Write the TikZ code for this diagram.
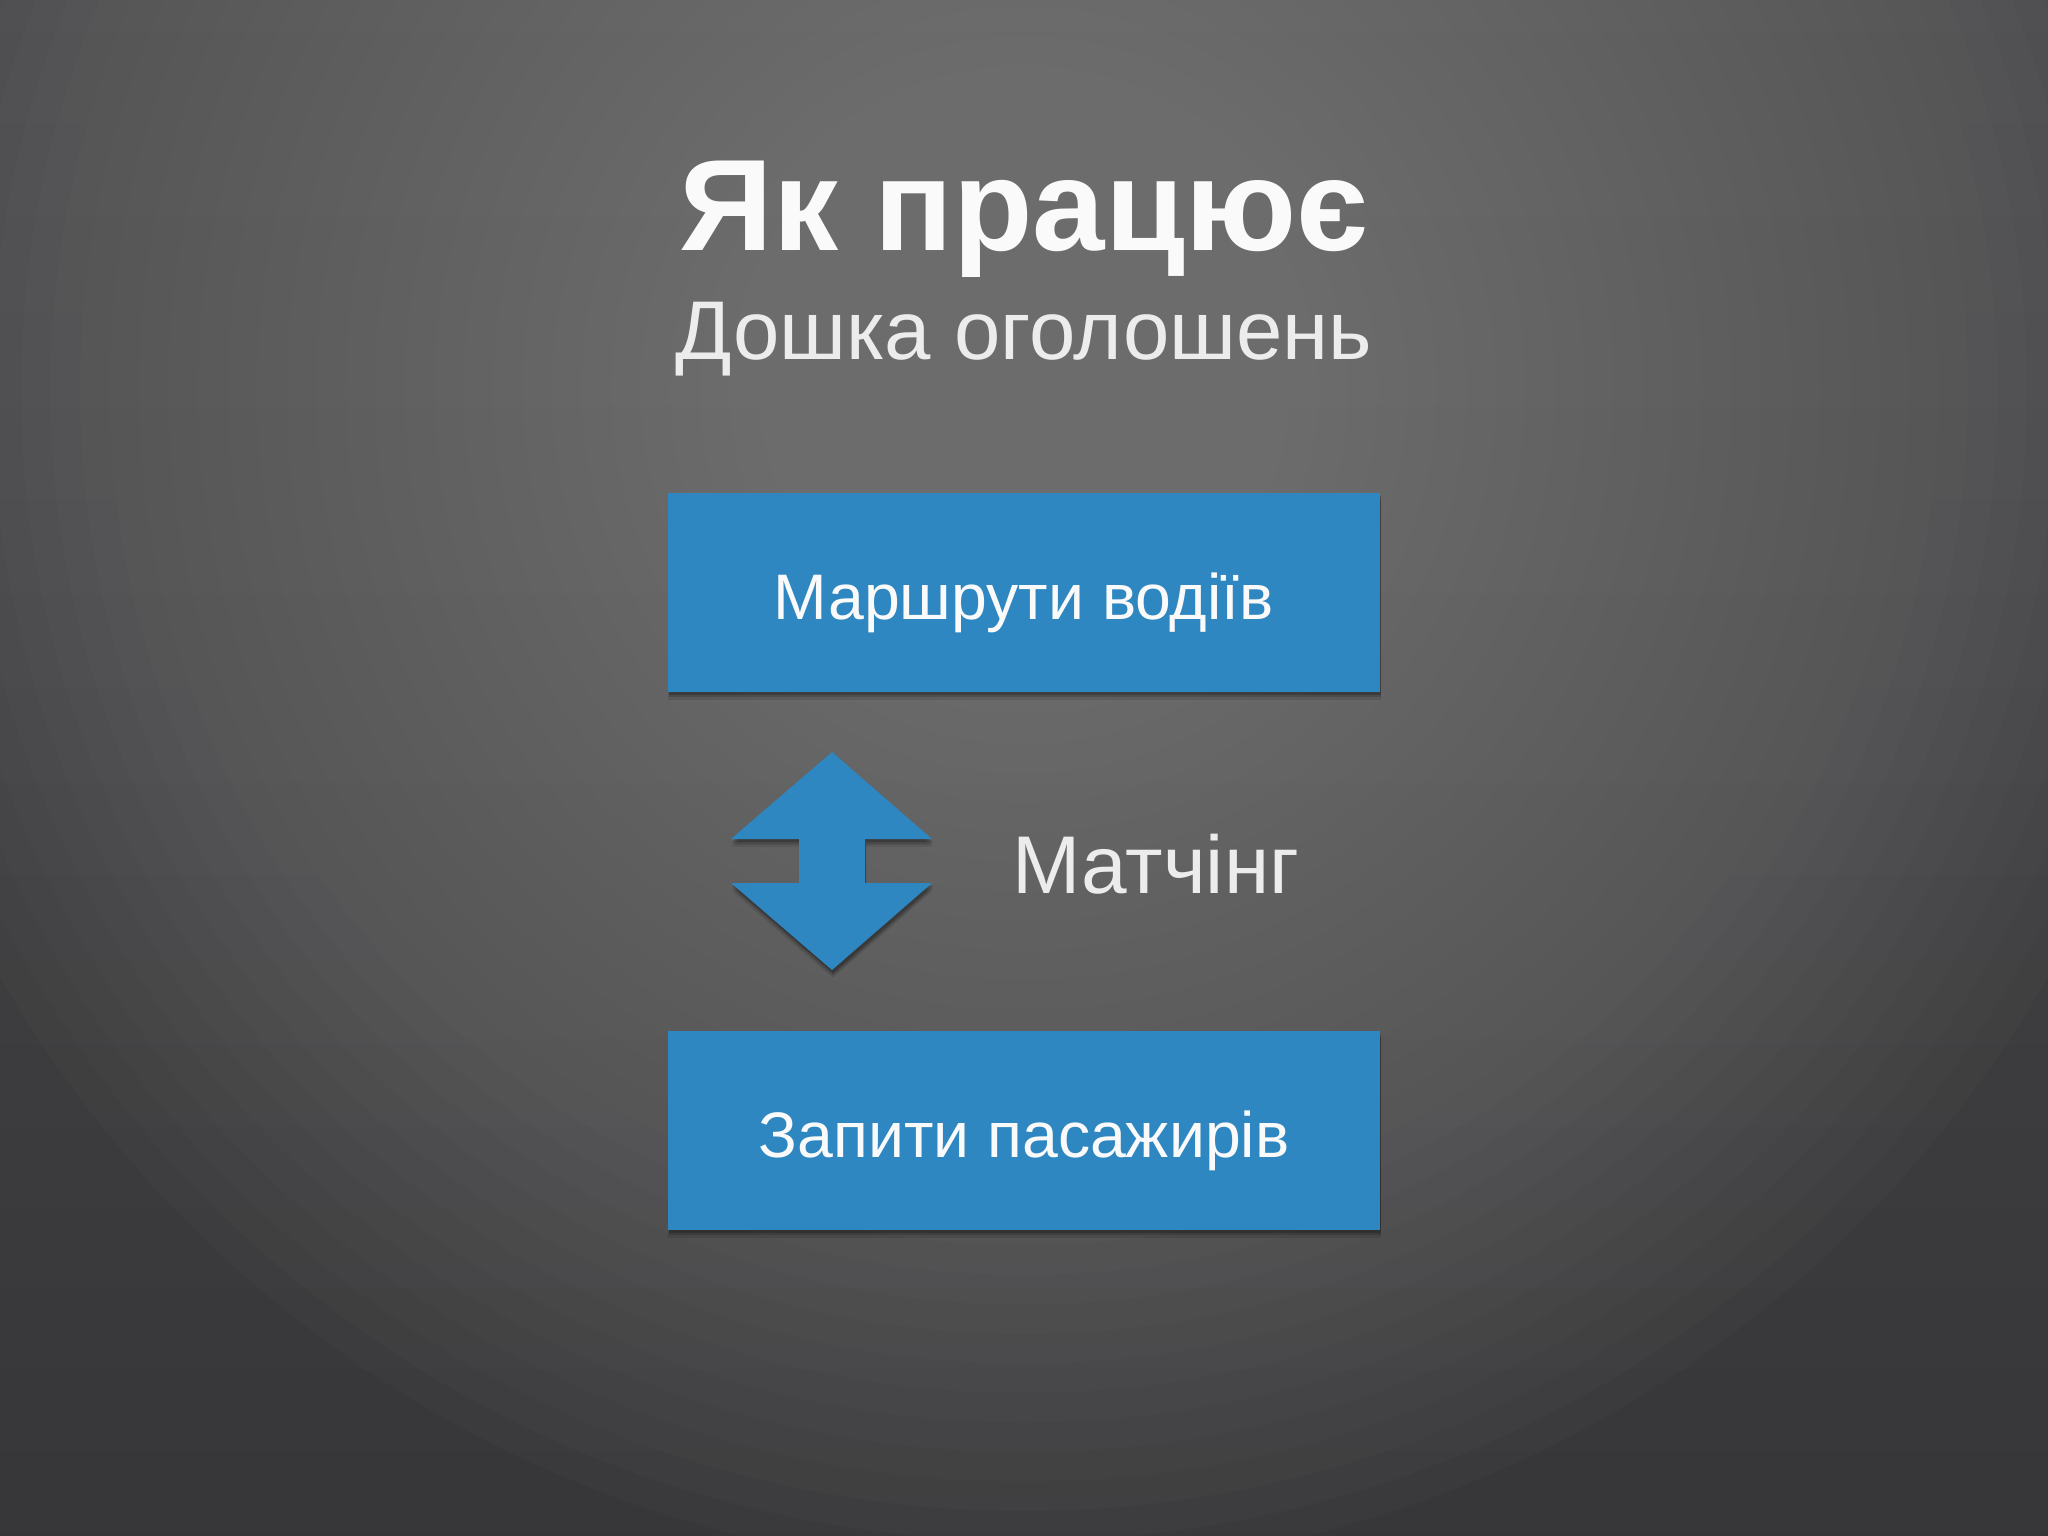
\documentclass[tikz,border=0pt]{standalone}
\usepackage{fontspec}
\setmainfont{Liberation Sans}
\usetikzlibrary{shadows}
\definecolor{boxblue}{RGB}{46,135,192}
\definecolor{bgtop}{RGB}{80,80,82}
\definecolor{bgmid}{RGB}{62,62,64}
\definecolor{bgbot}{RGB}{45,44,47}
\definecolor{glowc}{RGB}{131,131,131}
\definecolor{textwhite}{RGB}{250,250,250}
\definecolor{subwhite}{RGB}{236,236,236}
\pgfdeclareverticalshading{bgshade}{100bp}{color(0bp)=(bgbot); color(45bp)=(bgmid); color(100bp)=(bgtop)}
\tikzset{
  softshadow/.style={
    drop shadow={shadow xshift=0.2pt, shadow yshift=-2.2pt, opacity=0.10, fill=black},
    drop shadow={shadow xshift=0.3pt, shadow yshift=-1.5pt, opacity=0.15, fill=black},
    drop shadow={shadow xshift=0.3pt, shadow yshift=-0.9pt, opacity=0.2, fill=black}},
  card/.style={fill=boxblue, draw=none, softshadow, inner sep=0pt, minimum width=7.12cm, minimum height=1.99cm, anchor=north west, text=textwhite, font=\fontsize{18.3}{20}\selectfont, text height=15.6pt, text depth=0pt},
  titletext/.style={text=textwhite, font=\bfseries\fontsize{37}{40}\selectfont, inner sep=0pt, anchor=base},
  subtext/.style={text=subwhite, font=\fontsize{23.7}{26}\selectfont, inner sep=0pt, anchor=base},
  sidetext/.style={text=subwhite, font=\fontsize{23.3}{26}\selectfont, inner sep=0pt, anchor=base west}
}
\begin{document}
\begin{tikzpicture}[x=0.01cm,y=-0.01cm]
\useasboundingbox (0,0) rectangle (2048,1536);
\shade[shading=bgshade] (0,0) rectangle (2048,1536);
\foreach \i in {0,...,39}{
  \fill[glowc, opacity=0.045] (1024,390) circle ({1180*(1-\i/40)});
}
\node[titletext] (title) at (1024,250) {Як працює};
\node[subtext] (subtitle) at (1024,359) {Дошка оголошень};
\node[card] (drivers) at (667,492) {Маршрути водіїв};
\node[card] (passengers) at (667,1030) {Запити пасажирів};
\fill[boxblue, softshadow] (832,752) -- (932,839) -- (865,839) -- (865,883) -- (932,883) -- (832,970) -- (731,883) -- (799,883) -- (799,839) -- (731,839) -- cycle;
\node[sidetext] (matching) at (1012,893) {Матчінг};
\end{tikzpicture}
\end{document}
